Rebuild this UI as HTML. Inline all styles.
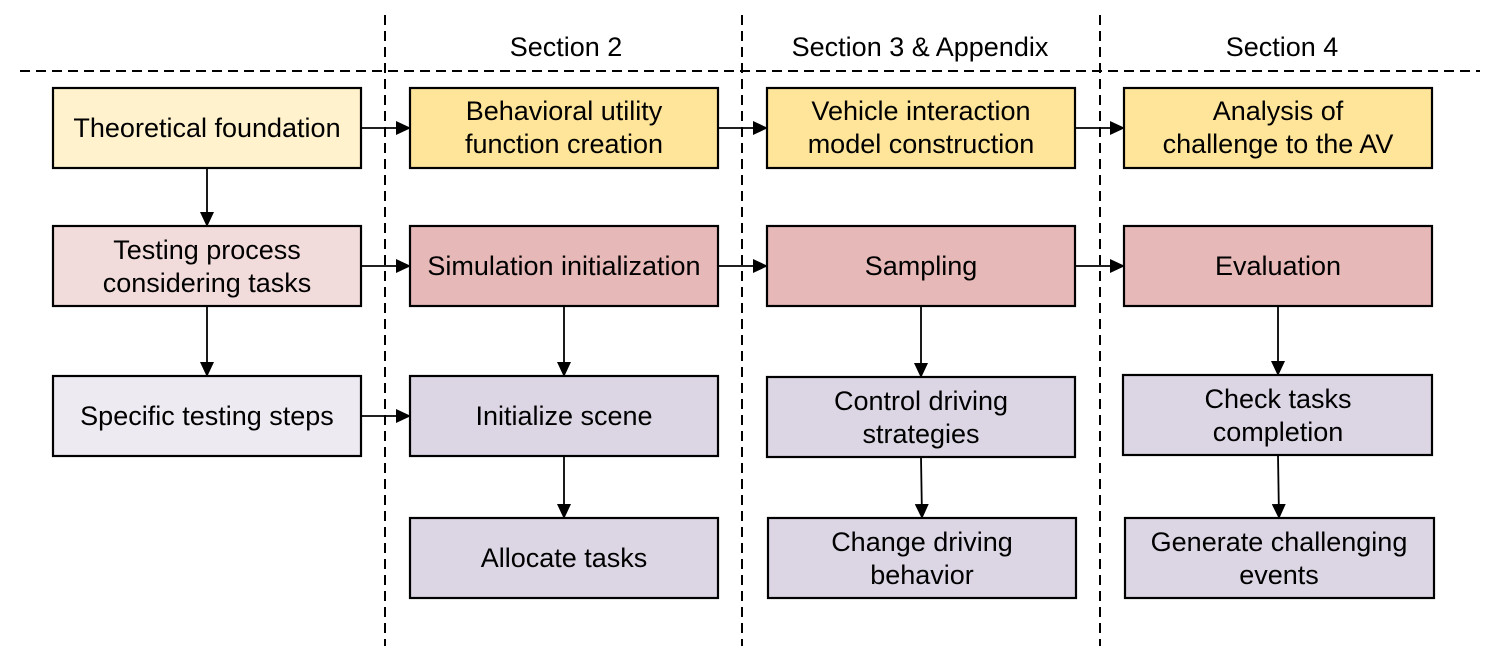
<!DOCTYPE html>
<html><head><meta charset="utf-8"><style>
html,body{margin:0;padding:0;background:#fff;}
svg{display:block;}
text{font-family:"Liberation Sans",Arial,sans-serif;font-size:27px;fill:#000;text-anchor:middle;}
</style></head><body>
<svg width="1487" height="658" viewBox="0 0 1487 658" xmlns="http://www.w3.org/2000/svg">
<defs><marker id="a" markerWidth="15" markerHeight="14" refX="14" refY="7" orient="auto" markerUnits="userSpaceOnUse"><path d="M0,0 L15,7 L0,14 z" fill="#000"/></marker></defs>
<g stroke="#000" stroke-width="2" stroke-dasharray="10,6" fill="none">
<line x1="20" y1="71" x2="1480" y2="71"/>
<line x1="385" y1="15" x2="385" y2="646"/>
<line x1="742" y1="15" x2="742" y2="646"/>
<line x1="1100" y1="15" x2="1100" y2="646"/>
</g>
<text x="566" y="56">Section 2</text>
<text x="920" y="56">Section 3 &amp; Appendix</text>
<text x="1282" y="56">Section 4</text>
<g stroke="#000" stroke-width="2.2">
<rect x="53" y="88" width="308" height="80" fill="#fff2cc"/>
<rect x="53" y="226" width="308" height="80" fill="#f2dcdb"/>
<rect x="53" y="376" width="308" height="80" fill="#eeeaf2"/>
<rect x="410" y="88" width="308" height="80" fill="#ffe599"/>
<rect x="410" y="226" width="308" height="80" fill="#e6b8b7"/>
<rect x="410" y="376" width="308" height="80" fill="#dcd6e4"/>
<rect x="410" y="518" width="308" height="80" fill="#dcd6e4"/>
<rect x="767" y="88" width="308" height="80" fill="#ffe599"/>
<rect x="767" y="226" width="308" height="80" fill="#e6b8b7"/>
<rect x="767" y="377" width="308" height="80" fill="#dcd6e4"/>
<rect x="768" y="518" width="308" height="80" fill="#dcd6e4"/>
<rect x="1124" y="88" width="308" height="80" fill="#ffe599"/>
<rect x="1124" y="226" width="308" height="80" fill="#e6b8b7"/>
<rect x="1123" y="375" width="309" height="80" fill="#dcd6e4"/>
<rect x="1125" y="518" width="309" height="80" fill="#dcd6e4"/>
</g>
<g stroke="#000" stroke-width="1.8" marker-end="url(#a)">
<line x1="361" y1="128" x2="410" y2="128"/>
<line x1="718" y1="128" x2="767" y2="128"/>
<line x1="1075" y1="128" x2="1124" y2="128"/>
<line x1="361" y1="266" x2="410" y2="266"/>
<line x1="718" y1="266" x2="767" y2="266"/>
<line x1="1075" y1="266" x2="1124" y2="266"/>
<line x1="361" y1="416" x2="410" y2="416"/>
<line x1="207" y1="168" x2="207" y2="226"/>
<line x1="207" y1="306" x2="207" y2="376"/>
<line x1="564" y1="306" x2="564" y2="376"/>
<line x1="564" y1="456" x2="564" y2="518"/>
<line x1="921" y1="306" x2="921" y2="377"/>
<line x1="921" y1="457" x2="922" y2="518"/>
<line x1="1278" y1="306" x2="1278" y2="375"/>
<line x1="1278" y1="455" x2="1279" y2="518"/>
</g>
<text x="207" y="137">Theoretical foundation</text>
<text x="207" y="259">Testing process</text><text x="207" y="292">considering tasks</text>
<text x="207" y="425">Specific testing steps</text>
<text x="564" y="120">Behavioral utility</text><text x="564" y="153">function creation</text>
<text x="564" y="275">Simulation initialization</text>
<text x="564" y="425">Initialize scene</text>
<text x="564" y="567">Allocate tasks</text>
<text x="921" y="120">Vehicle interaction</text><text x="921" y="153">model construction</text>
<text x="921" y="275">Sampling</text>
<text x="921" y="410">Control driving</text><text x="921" y="443">strategies</text>
<text x="922" y="551">Change driving</text><text x="922" y="584">behavior</text>
<text x="1278" y="120">Analysis of</text><text x="1278" y="153">challenge to the AV</text>
<text x="1278" y="275">Evaluation</text>
<text x="1278" y="408">Check tasks</text><text x="1278" y="441">completion</text>
<text x="1279" y="551">Generate challenging</text><text x="1279" y="584">events</text>
</svg>
</body></html>
